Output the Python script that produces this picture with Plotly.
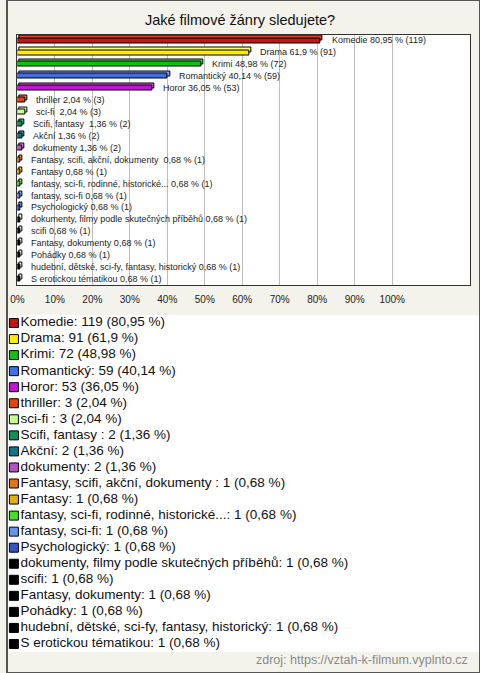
import plotly.graph_objects as go

# ---- data ----
categories = [
    "Komedie", "Drama", "Krimi", "Romantický", "Horor", "thriller", "sci-fi ",
    "Scifi, fantasy ", "Akční", "dokumenty", "Fantasy, scifi, akční, dokumenty ",
    "Fantasy", "fantasy, sci-fi, rodinné, historické...", "fantasy, sci-fi",
    "Psychologický", "dokumenty, filmy podle skutečných příběhů", "scifi",
    "Fantasy, dokumenty", "Pohádky", "hudební, dětské, sci-fy, fantasy, historický",
    "S erotickou tématikou",
]
counts = [119, 91, 72, 59, 53, 3, 3, 2, 2, 2, 1, 1, 1, 1, 1, 1, 1, 1, 1, 1, 1]
percents = [80.95, 61.9, 48.98, 40.14, 36.05, 2.04, 2.04, 1.36, 1.36, 1.36,
            0.68, 0.68, 0.68, 0.68, 0.68, 0.68, 0.68, 0.68, 0.68, 0.68, 0.68]
percent_labels = ["80,95", "61,9", "48,98", "40,14", "36,05", "2,04", "2,04", "1,36",
                  "1,36", "1,36", "0,68", "0,68", "0,68", "0,68", "0,68", "0,68",
                  "0,68", "0,68", "0,68", "0,68", "0,68"]
colors = ["#c0180c", "#ffee00", "#12c012", "#3f6fe6", "#c414d4", "#e24412",
          "#c8ff90", "#12905a", "#127486", "#b454c4", "#e67412", "#e2b012",
          "#46e024", "#6494f0", "#3454c4", "#000000", "#000000", "#000000",
          "#000000", "#000000", "#000000"]
top_colors = ["#e04030", "#ffff80", "#60e060", "#80a0ff", "#e060f0", "#ff8050",
              "#e8ffc8", "#50c090", "#40a0b0", "#d890e0", "#ffa050", "#ffd860",
              "#90ff70", "#a0c0ff", "#7090f0", "#ffffff", "#ffffff", "#ffffff",
              "#ffffff", "#ffffff", "#ffffff"]
tick_values = [0, 10, 20, 30, 40, 50, 60, 70, 80, 90, 100]
tick_labels = ["0%", "10%", "20%", "30%", "40%", "50%", "60%", "70%", "80%", "90%", "100%"]
title_text = "Jaké filmové žánry sledujete?"
source_text = "zdroj: https://vztah-k-filmum.vyplnto.cz"

FONT = "Liberation Sans, Arial, sans-serif"
BG = "#f3f2eb"
W, H = 480, 673
idx = list(range(len(categories)))

fig = go.Figure()

# 3D look: back/top face then front face
fig.add_trace(go.Bar(
    y=idx, x=percents, base=0.55, orientation="h",
    width=0.42, offset=-0.38,
    marker=dict(color=top_colors, line=dict(color="#000000", width=1)),
    hoverinfo="skip", showlegend=False,
))
fig.add_trace(go.Bar(
    y=idx, x=percents, orientation="h",
    width=0.42, offset=-0.2,
    marker=dict(color=colors, line=dict(color="#000000", width=1)),
    hoverinfo="skip", showlegend=False,
))

# legend drawn as a small scatter panel
legend_texts = [f"{c}: {n} ({p} %)" for c, n, p in zip(categories, counts, percent_labels)]
fig.add_trace(go.Scatter(
    x=[0] * len(idx), y=idx, xaxis="x2", yaxis="y2",
    mode="markers+text", text=legend_texts, textposition="middle right",
    textfont=dict(family=FONT, size=13.5, color="#111111"),
    marker=dict(symbol="square", size=9, color=colors, line=dict(color="#000000", width=1)),
    hoverinfo="skip", showlegend=False, cliponaxis=False,
))

annotations = []
for i, (c, p, pl, n) in enumerate(zip(categories, percents, percent_labels, counts)):
    annotations.append(dict(
        x=p, y=i, xref="x", yref="y", text=f"{c} {pl} % ({n})",
        showarrow=False, xanchor="left", yanchor="middle", xshift=9,
        font=dict(family=FONT, size=9, color="#222222"),
    ))
annotations.append(dict(
    x=1, y=1 - 660 / H, xref="paper", yref="paper", text=source_text,
    showarrow=False, xanchor="right", yanchor="middle", xshift=-10,
    font=dict(family=FONT, size=12.5, color="#8a8a8a"),
))

fig.update_layout(
    width=W, height=H,
    margin=dict(l=0, r=0, t=0, b=0),
    paper_bgcolor=BG, plot_bgcolor="#ffffff",
    barmode="overlay", bargap=0,
    showlegend=False,
    title=dict(text=title_text, x=0.5, xanchor="center", y=1 - 20 / H, yanchor="middle",
               font=dict(family=FONT, size=14.5, color="#111111")),
    xaxis=dict(domain=[10.5 / W, 470 / W], range=[0, 120.8],
               tickvals=tick_values, ticktext=tick_labels,
               showgrid=True, gridcolor="#bdbdbd", gridwidth=1,
               showline=True, mirror=True, linecolor="#333333", linewidth=1,
               zeroline=False, ticks="", ticklen=0, ticklabelstandoff=5,
               tickfont=dict(family=FONT, size=10, color="#222222")),
    yaxis=dict(domain=[1 - 285 / H, 1 - 34.5 / H], range=[20.5, -0.5],
               showticklabels=False, showgrid=False, zeroline=False,
               showline=True, mirror=True, linecolor="#333333", linewidth=1, ticks=""),
    xaxis2=dict(domain=[0, 1], range=[-7, 473], visible=False, anchor="y2"),
    yaxis2=dict(domain=[1 - 652 / H, 1 - 315 / H], range=[20.5, -0.5], visible=False, anchor="x2"),
    annotations=annotations,
    shapes=[dict(type="rect", xref="paper", yref="paper", x0=0, y0=0, x1=1, y1=1,
                 line=dict(color="#555555", width=2), fillcolor="rgba(0,0,0,0)")],
    font=dict(family=FONT),
)

fig.write_html(
    "out.html",
    config={"displayModeBar": False},
    post_script="document.body.style.margin='0';document.body.style.padding='0';"
                "document.body.style.overflow='hidden';",
)
